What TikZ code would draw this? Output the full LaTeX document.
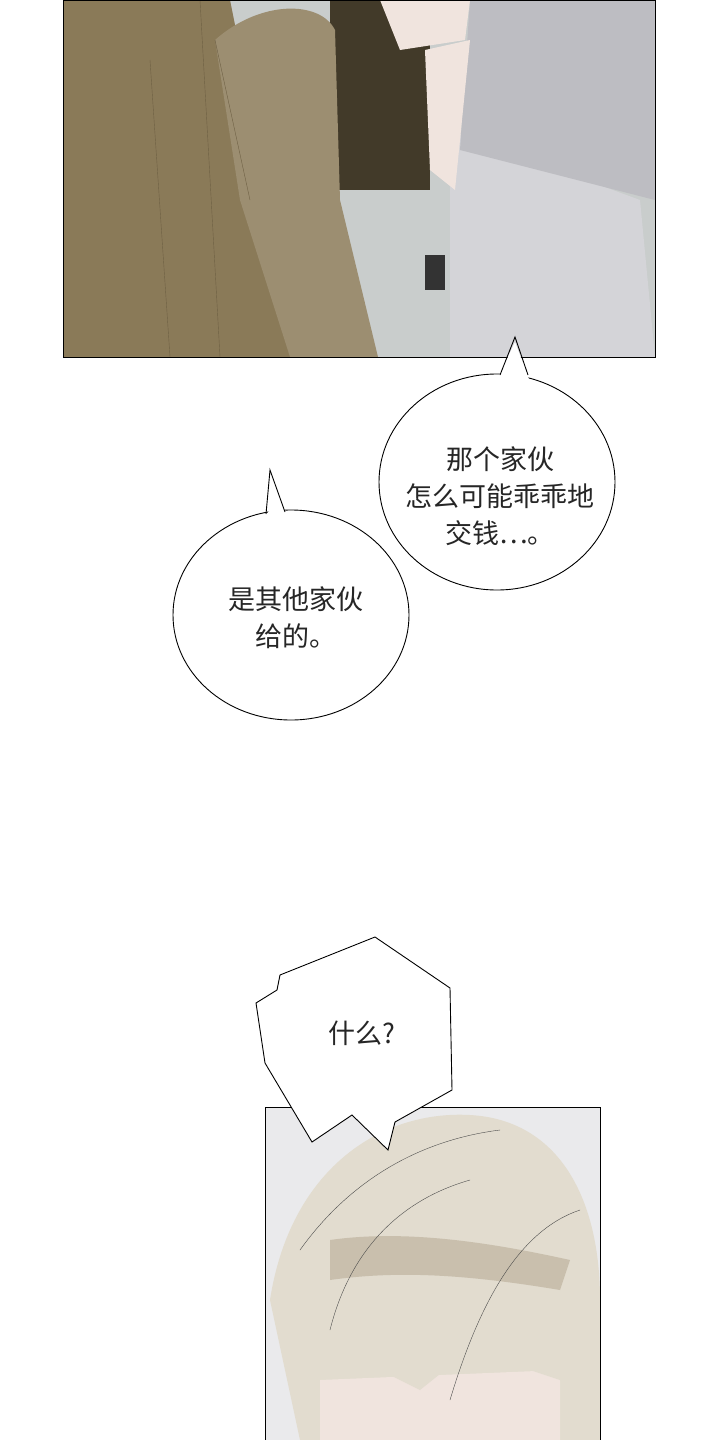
\documentclass[tikz,border=0pt]{standalone}
\usepackage{fontspec}
\newfontfamily\cjk{Noto Sans CJK SC}
\definecolor{olive}{HTML}{8A7A58}
\definecolor{olivedk}{HTML}{6E6044}
\definecolor{tile}{HTML}{C9CDCC}
\definecolor{pants}{HTML}{D4D4D8}
\definecolor{shirt}{HTML}{BDBDC2}
\definecolor{hair}{HTML}{E2DCCF}
\definecolor{hairdk}{HTML}{C9BFAD}
\definecolor{bg2}{HTML}{EAEAEC}
\definecolor{skin}{HTML}{F0E4DE}
\tikzset{bubble/.style={draw=black,line width=0.9pt,fill=white},
 txt/.style={font=\cjk\fontsize{27}{37}\selectfont,align=center,text=black!85}}
\begin{document}
\begin{tikzpicture}[x=1pt,y=-1pt]
\useasboundingbox (0,0) rectangle (720,1440);
\fill[white] (0,0) rectangle (720,1440);
% panel 1
\begin{scope}
\clip (63,0) rectangle (655,357);
\fill[tile] (63,0) rectangle (655,357);
\fill[olivedk!60!black] (330,0) rectangle (430,190);
\fill[olive] (63,0) -- (230,0) -- (250,100) -- (310,357) -- (63,357) -- cycle;
\fill[olive!85!white] (215,40) .. controls (260,0) and (320,0) .. (335,30) -- (340,200) -- (378,357) -- (290,357) -- (240,200) -- cycle;
\draw[olivedk] (200,0) -- (220,357) (150,60) -- (170,357) (215,40) -- (250,200);
\fill[pants] (450,130) -- (640,200) -- (655,357) -- (450,357) -- cycle;
\fill[shirt] (470,0) -- (655,0) -- (655,200) -- (460,150) -- cycle;
\fill[skin] (380,0) -- (470,0) -- (465,40) -- (400,50) -- cycle;
\fill[skin] (425,50) -- (470,40) -- (455,190) -- (430,170) -- cycle;
\fill[black!80] (425,255) rectangle (445,290);
\end{scope}
\draw[line width=1pt] (63,0) rectangle (655,357);
% bubble 1
\draw[bubble] (497,482) ellipse (118 and 108);
\fill[white] (497,380) -- (515,342) -- (530,382) -- cycle;
\draw[line width=0.9pt] (500,375) -- (515,337) -- (528,375);
\node[txt] (t1) at (500,496) {那个家伙\\怎么可能乖乖地\\交钱…。};
% bubble 2
\draw[bubble] (291,615) ellipse (118 and 105);
\fill[white] (268,518) -- (270,470) -- (288,518) -- cycle;
\draw[line width=0.9pt] (266,514) -- (270,470) -- (285,512);
\node[txt] (t2) at (296,618) {是其他家伙\\给的。};
% panel 2
\begin{scope}
\clip (265,1107) rectangle (600,1440);
\fill[bg2] (265,1107) rectangle (600,1440);
\fill[hair] (270,1300) .. controls (290,1170) and (380,1110) .. (470,1115) .. controls (560,1120) and (600,1200) .. (600,1300) -- (600,1440) -- (300,1440) -- cycle;
\fill[hairdk] (330,1240) .. controls (400,1230) and (480,1240) .. (570,1260) -- (560,1290) .. controls (470,1275) and (400,1270) .. (330,1280) -- cycle;
\fill[skin] (320,1380) -- (560,1370) -- (560,1440) -- (320,1440) -- cycle;
\fill[hair] (300,1330) -- (420,1390) -- (470,1350) -- (560,1380) -- (580,1300) -- (320,1290) -- cycle;
\draw[black!70] (300,1250) .. controls (350,1180) and (420,1140) .. (500,1130) (330,1330) .. controls (350,1250) and (400,1200) .. (470,1180) (450,1400) .. controls (480,1300) and (520,1230) .. (580,1210);
\end{scope}
\draw[line width=1pt] (265,1107) rectangle (600,1440);
% bubble 3
\draw[bubble] (256,1003) -- (277,990) -- (280,975) -- (375,937) -- (450,988) -- (452,1090) -- (395,1122) -- (388,1150) -- (352,1115) -- (312,1142) -- (265,1063) -- cycle;
\node[txt] (t3) at (362,1033) {什么?};
\end{tikzpicture}
\end{document}
